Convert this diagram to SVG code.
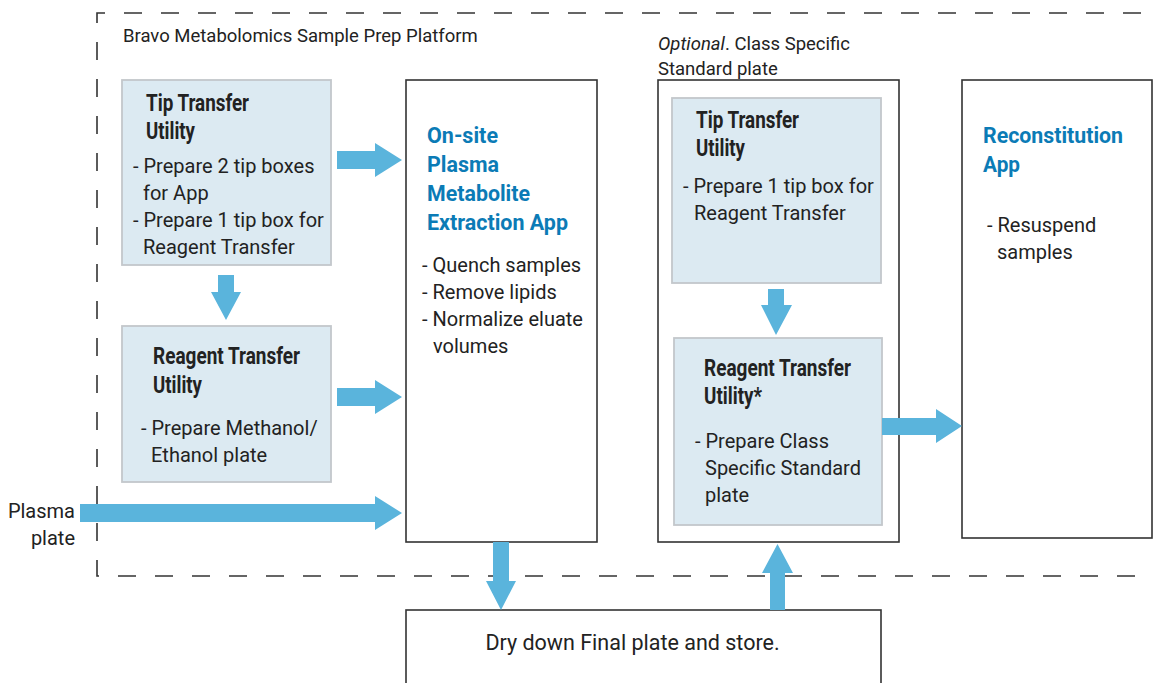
<svg xmlns="http://www.w3.org/2000/svg" width="1166" height="683" viewBox="0 0 1166 683">
  <style>
    text { font-family: Roboto, "Liberation Sans", sans-serif; fill: #222; }
    .body { font-size: 20px; }
    .note { font-size: 21.5px; }
    .head { font-size: 23px; font-weight: bold; }
    .app { font-size: 22px; font-weight: bold; fill: #0b7bb6; }
    .title { font-size: 18.5px; }
    .frame { fill: #fff; stroke: #333; stroke-width: 1.6; }
    .util { fill: #dceaf2; stroke: #c3c7cb; stroke-width: 1.8; }
    .arrow { fill: #5ab4dc; stroke: none; }
    .dash { fill: none; stroke: #333; stroke-width: 1.6; stroke-dasharray: 18 19; stroke-dashoffset: 28; }
  </style>

  <!-- platform boundary -->
  <path class="dash" d="M1150 13 H97 V576 H1150"/>
  <text class="title" x="123" y="42">Bravo Metabolomics Sample Prep Platform</text>

  <!-- left column: tip transfer utility -->
  <g id="tip-transfer-1">
    <rect class="util" x="122" y="80" width="209" height="185"/>
    <text class="head" x="146" y="111" textLength="103" lengthAdjust="spacingAndGlyphs">Tip Transfer</text>
    <text class="head" x="146" y="139" textLength="49" lengthAdjust="spacingAndGlyphs">Utility</text>
    <text class="body" x="133" y="173">- Prepare 2 tip boxes</text>
    <text class="body" x="143" y="200">for App</text>
    <text class="body" x="133" y="227">- Prepare 1 tip box for</text>
    <text class="body" x="143" y="254">Reagent Transfer</text>
  </g>

  <!-- left column: reagent transfer utility -->
  <g id="reagent-transfer-1">
    <rect class="util" x="122" y="326" width="209" height="156"/>
    <text class="head" x="153" y="364" textLength="147" lengthAdjust="spacingAndGlyphs">Reagent Transfer</text>
    <text class="head" x="153" y="393" textLength="49" lengthAdjust="spacingAndGlyphs">Utility</text>
    <text class="body" x="141" y="435">- Prepare Methanol/</text>
    <text class="body" x="151" y="462">Ethanol plate</text>
  </g>

  <!-- plasma input label -->
  <g id="plasma-plate">
    <text class="body" x="75" y="518" text-anchor="end">Plasma</text>
    <text class="body" x="75" y="545" text-anchor="end">plate</text>
  </g>

  <!-- extraction app -->
  <g id="extraction-app">
    <rect class="frame" x="406" y="80" width="191" height="462"/>
    <text class="app" x="427" y="143" textLength="71" lengthAdjust="spacingAndGlyphs">On-site</text>
    <text class="app" x="427" y="172" textLength="72" lengthAdjust="spacingAndGlyphs">Plasma</text>
    <text class="app" x="427" y="201" textLength="103" lengthAdjust="spacingAndGlyphs">Metabolite</text>
    <text class="app" x="427" y="230" textLength="141" lengthAdjust="spacingAndGlyphs">Extraction App</text>
    <text class="body" x="422" y="272">- Quench samples</text>
    <text class="body" x="422" y="299">- Remove lipids</text>
    <text class="body" x="422" y="326">- Normalize eluate</text>
    <text class="body" x="433" y="353">volumes</text>
  </g>

  <!-- optional class specific standard plate -->
  <g id="optional-standard">
    <text class="title" x="658" y="50"><tspan font-style="italic">Optional</tspan>. Class Specific</text>
    <text class="title" x="658" y="75">Standard plate</text>
    <rect class="frame" x="658" y="80" width="241" height="462"/>
  </g>

  <g id="tip-transfer-2">
    <rect class="util" x="672" y="98" width="209" height="185"/>
    <text class="head" x="696" y="128" textLength="103" lengthAdjust="spacingAndGlyphs">Tip Transfer</text>
    <text class="head" x="696" y="156" textLength="49" lengthAdjust="spacingAndGlyphs">Utility</text>
    <text class="body" x="683" y="193">- Prepare 1 tip box for</text>
    <text class="body" x="694" y="220">Reagent Transfer</text>
  </g>

  <g id="reagent-transfer-2">
    <rect class="util" x="674" y="338" width="208" height="187"/>
    <text class="head" x="704" y="376" textLength="147" lengthAdjust="spacingAndGlyphs">Reagent Transfer</text>
    <text class="head" x="704" y="404" textLength="58" lengthAdjust="spacingAndGlyphs">Utility*</text>
    <text class="body" x="695" y="448">- Prepare Class</text>
    <text class="body" x="705" y="475">Specific Standard</text>
    <text class="body" x="705" y="502">plate</text>
  </g>

  <!-- reconstitution app -->
  <g id="reconstitution-app">
    <rect class="frame" x="962" y="80" width="190" height="458"/>
    <text class="app" x="983" y="143" textLength="140" lengthAdjust="spacingAndGlyphs">Reconstitution</text>
    <text class="app" x="983" y="172" textLength="37" lengthAdjust="spacingAndGlyphs">App</text>
    <text class="body" x="987" y="232">- Resuspend</text>
    <text class="body" x="997" y="259">samples</text>
  </g>

  <!-- dry down / storage -->
  <g id="dry-down">
    <rect class="frame" x="406" y="610" width="475" height="90"/>
    <text class="note" x="632.5" y="650" text-anchor="middle">Dry down Final plate and store.</text>
  </g>

  <!-- flow arrows -->
  <g id="connectors">
    <polygon class="arrow" points="337,151 375,151 375,143 402,160 375,177 375,169 337,169"/>
    <polygon class="arrow" points="337,388 375,388 375,380 402,397 375,414 375,406 337,406"/>
    <polygon class="arrow" points="80,504 375,504 375,496 402,513 375,530 375,522 80,522"/>
    <polygon class="arrow" points="218,275 234,275 234,292 241,292 226,320 211,292 218,292"/>
    <polygon class="arrow" points="768,289 784,289 784,305 792,305 776,335 761,305 768,305"/>
    <polygon class="arrow" points="882,418 936,418 936,409 962,426 936,443 936,435 882,435"/>
    <polygon class="arrow" points="493,542 509,542 509,581 516,581 501,610 486,581 493,581"/>
    <polygon class="arrow" points="770,610 785,610 785,573 793,573 777.5,544 762,573 770,573"/>
  </g>
</svg>
